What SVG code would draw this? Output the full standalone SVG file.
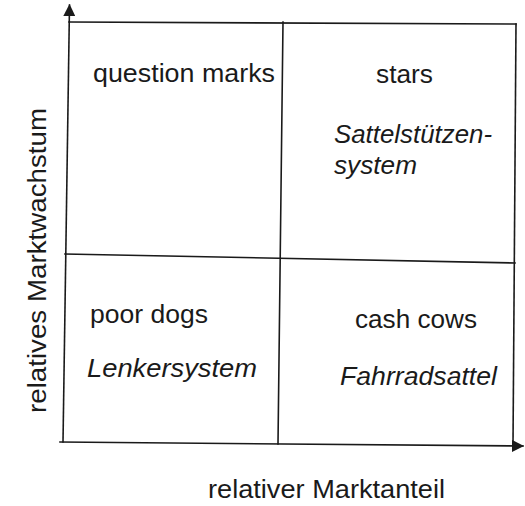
<svg xmlns="http://www.w3.org/2000/svg" width="525" height="506" viewBox="0 0 525 506">
<defs>
<style>
.ln{stroke:#1a1a1a;stroke-width:1.6;fill:none;stroke-linecap:square}
.t{font-family:"Liberation Sans",Arial,Helvetica,sans-serif;font-size:25px;fill:#1a1a1a}
.i{font-style:italic}
</style>
<marker id="ah" viewBox="0 0 12 12" refX="11" refY="6" markerWidth="12" markerHeight="12" markerUnits="userSpaceOnUse" orient="auto">
<path d="M0,0 L12,6 L0,12 Z" fill="#1a1a1a"/>
</marker>
</defs>
<rect width="525" height="506" fill="#ffffff"/>
<g id="connectors">
<line class="ln" x1="63" y1="442" x2="69.5" y2="5" marker-end="url(#ah)"/>
<line class="ln" x1="60" y1="442" x2="523" y2="446" marker-end="url(#ah)"/>
<line class="ln" x1="69" y1="22" x2="516" y2="24"/>
<line class="ln" x1="516" y1="24" x2="513" y2="445"/>
<line class="ln" x1="283" y1="22" x2="278" y2="444"/>
<line class="ln" x1="65" y1="254" x2="515" y2="263"/>
</g>
<g id="question-marks">
<text class="t" x="93" y="82" textLength="182" lengthAdjust="spacingAndGlyphs">question marks</text>
</g>
<g id="stars">
<text class="t" x="376" y="83" textLength="57" lengthAdjust="spacingAndGlyphs">stars</text>
<text class="t i" x="334" y="143" textLength="158" lengthAdjust="spacingAndGlyphs">Sattelstützen-</text>
<text class="t i" x="334" y="174" textLength="83" lengthAdjust="spacingAndGlyphs">system</text>
</g>
<g id="poor-dogs">
<text class="t" x="90" y="323" textLength="118" lengthAdjust="spacingAndGlyphs">poor dogs</text>
<text class="t i" x="87" y="377" textLength="170" lengthAdjust="spacingAndGlyphs">Lenkersystem</text>
</g>
<g id="cash-cows">
<text class="t" x="355" y="328" textLength="122" lengthAdjust="spacingAndGlyphs">cash cows</text>
<text class="t i" x="340" y="385" textLength="157" lengthAdjust="spacingAndGlyphs">Fahrradsattel</text>
</g>
<g id="axis-labels">
<text class="t" x="208" y="498" textLength="237" lengthAdjust="spacingAndGlyphs">relativer Marktanteil</text>
<text class="t" transform="translate(46,413) rotate(-90)" x="0" y="0" textLength="305" lengthAdjust="spacingAndGlyphs">relatives Marktwachstum</text>
</g>
</svg>
